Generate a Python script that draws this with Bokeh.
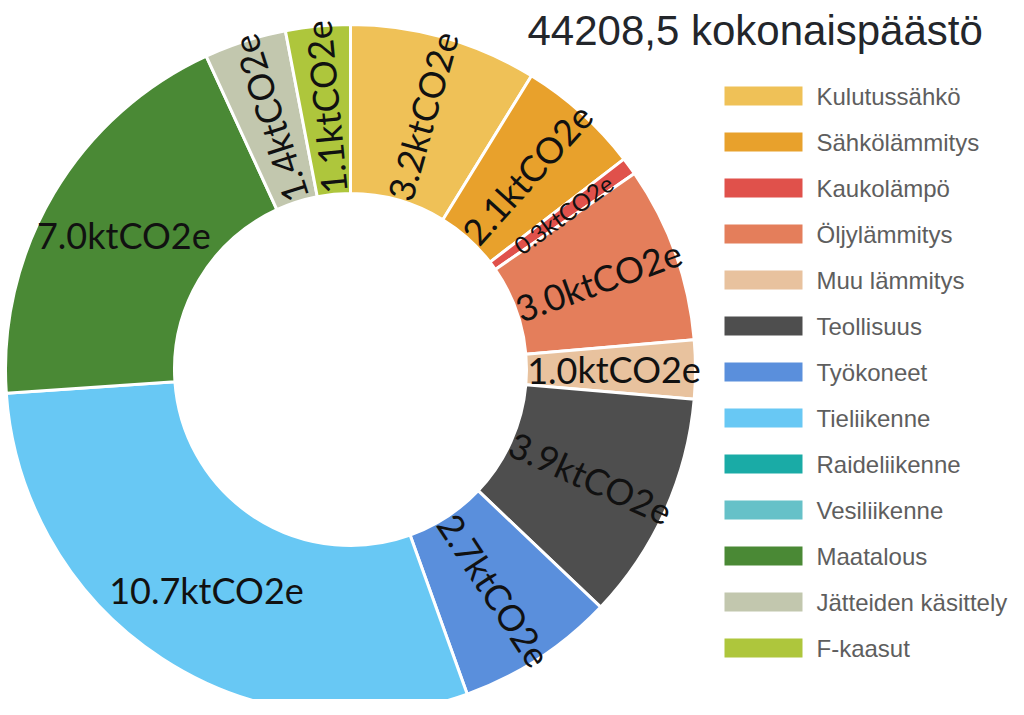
import math
from bokeh.plotting import figure
from bokeh.models import ColumnDataSource, Range1d
from bokeh.core.properties import value
from bokeh.embed import file_html
from bokeh.resources import INLINE

# ---- data ----
categories = ["Kulutussähkö", "Sähkölämmitys", "Kaukolämpö", "Öljylämmitys",
              "Muu lämmitys", "Teollisuus", "Työkoneet", "Tieliikenne",
              "Raideliikenne", "Vesiliikenne", "Maatalous",
              "Jätteiden käsittely", "F-kaasut"]
values_kt = [3.2, 2.1, 0.3, 3.0, 1.0, 3.9, 2.7, 10.7, 0.0, 0.0, 7.0, 1.4, 1.1]
colors = ["#EFC157", "#E8A12C", "#E0514B", "#E47E5B", "#E8C29E", "#4E4E4E",
          "#5A8FDC", "#68C8F4", "#1AABA6", "#66C1C8", "#4A8935", "#C2C7AE",
          "#AEC63C"]
title_text = "44208,5 kokonaispäästö"
unit = "ktCO2e"

W, H = 1008, 699

def rx(X):
    return X

def ry(Y):
    return H - Y

p = figure(width=W, height=H, output_backend="svg", toolbar_location=None,
           x_range=Range1d(0, W), y_range=Range1d(0, H), min_border=0)
p.axis.visible = False
p.grid.visible = False
p.outline_line_color = None
p.background_fill_color = "white"

cx, cy = rx(350), ry(369)
r_in, r_out = 176, 345
total = sum(values_kt)

starts, ends, xs_l, ys_l, rots, labels, cols, fs = [], [], [], [], [], [], [], []
cum = 0.0
for cat, v, c in zip(categories, values_kt, colors):
    if v <= 0:
        continue
    a0 = cum / total * 2 * math.pi
    cum += v
    a1 = cum / total * 2 * math.pi
    starts.append(math.pi / 2 - a1)
    ends.append(math.pi / 2 - a0)
    cols.append(c)
    mid = (a0 + a1) / 2
    rl = (r_in + r_out) / 2 + 3
    xs_l.append(cx + rl * math.sin(mid))
    ys_l.append(cy + rl * math.cos(mid))
    rot = (90 - math.degrees(mid)) % 360
    if 120 < rot < 300:
        rot = 0
    rots.append(math.radians(rot))
    labels.append(f"{v:.1f}{unit}")
    fs.append("24px" if v < 0.5 else "36px")

src = ColumnDataSource(dict(start=starts, end=ends, color=cols))
p.annular_wedge(x=cx, y=cy, inner_radius=r_in, outer_radius=r_out,
                start_angle="start", end_angle="end", fill_color="color",
                line_color="white", line_width=3, source=src)

lsrc = ColumnDataSource(dict(x=xs_l, y=ys_l, a=rots, t=labels, fs=fs))
p.text(x="x", y="y", text="t", angle="a", source=lsrc,
       text_font=value("Lato"), text_font_size="fs", text_color="#111111",
       text_align="center", text_baseline="middle")

# legend
leg_y = [ry(95.5 + 46.0 * i) for i in range(len(categories))]
leg_src = ColumnDataSource(dict(y=leg_y, c=colors, t=categories))
p.rect(x=rx(763), y="y", width=78, height=19, fill_color="c",
       line_color=None, source=leg_src)
p.text(x=rx(816), y="y", text="t", source=leg_src,
       text_font=value("Liberation Sans"), text_font_size="24px",
       text_color="#5E5E5E", text_align="left", text_baseline="middle")

# title
p.text(x=[rx(527)], y=[ry(30)], text=[title_text],
       text_font=value("Liberation Sans"), text_font_size="42px",
       text_color="#23262b", text_align="left", text_baseline="alphabetic")

open("out.html", "w").write(file_html(p, INLINE))
